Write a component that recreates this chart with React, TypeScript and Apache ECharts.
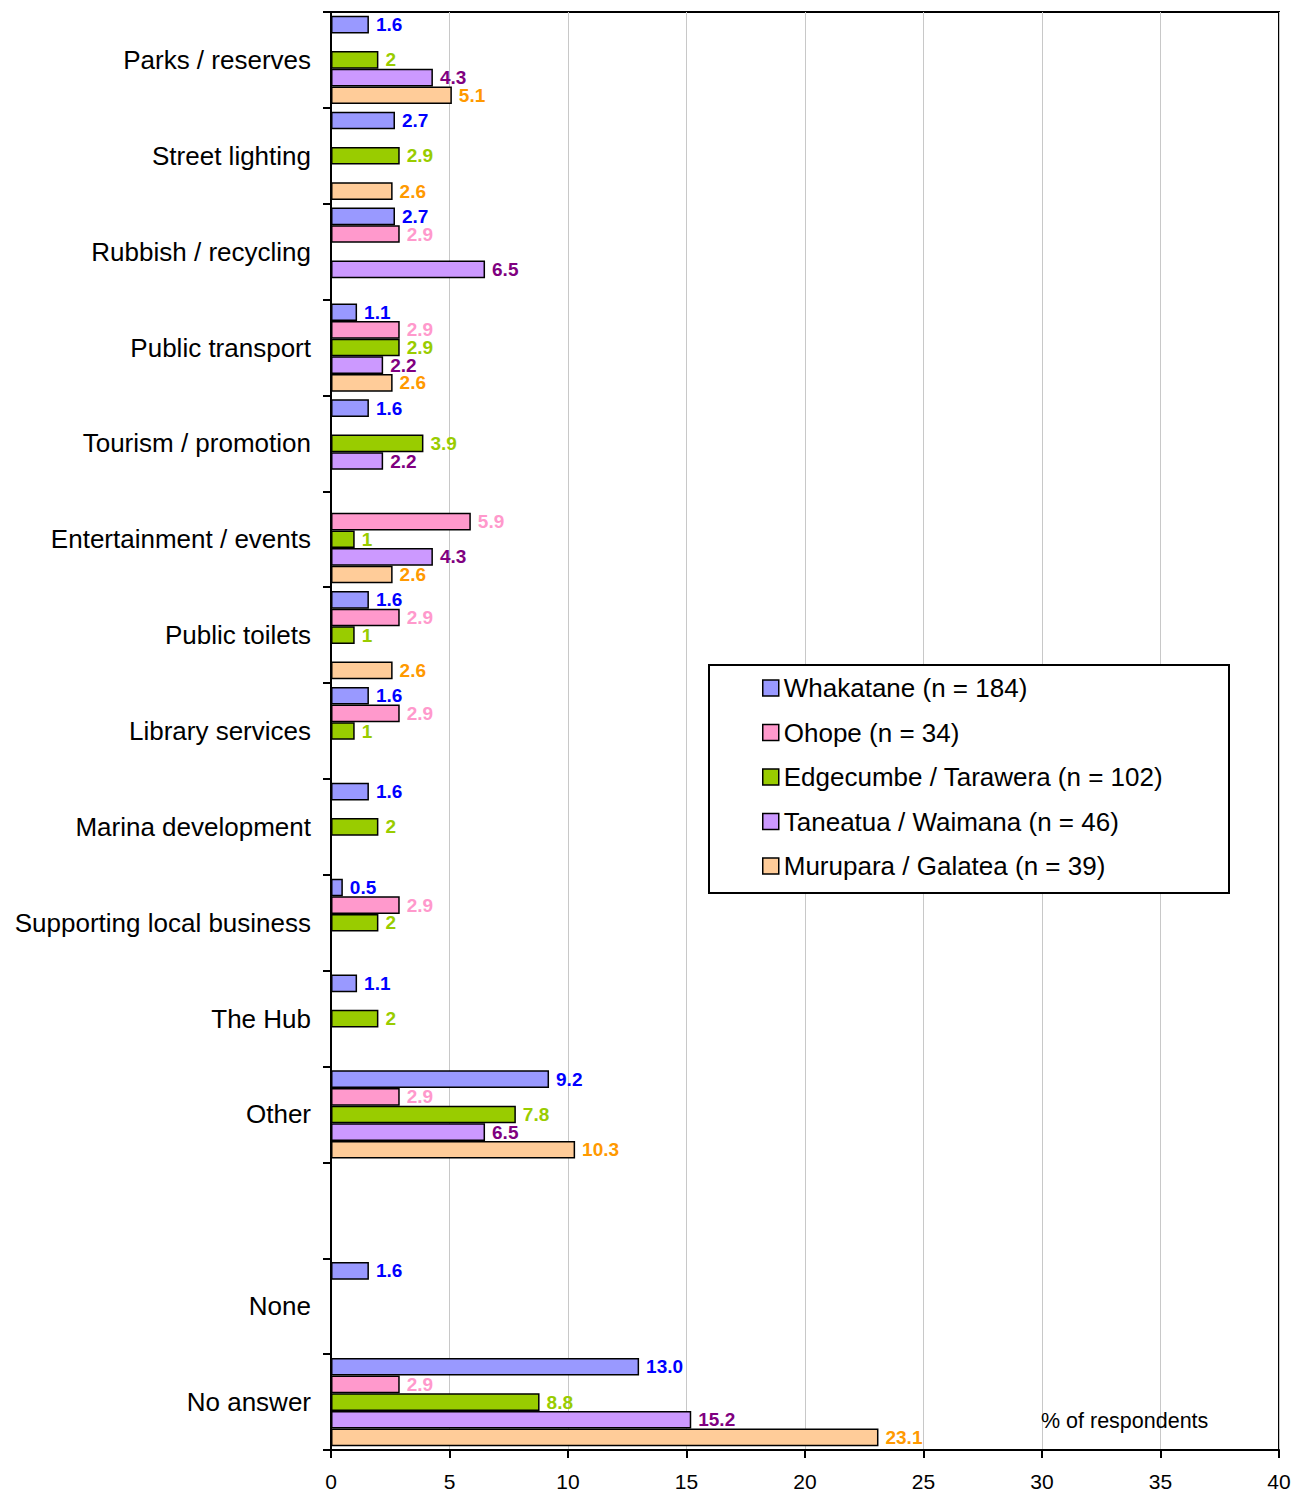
import React, { useEffect, useRef } from "react";
import * as echarts from "echarts";

const categories = [
  "Parks / reserves",
  "Street lighting",
  "Rubbish / recycling",
  "Public transport",
  "Tourism / promotion",
  "Entertainment / events",
  "Public toilets",
  "Library services",
  "Marina development",
  "Supporting local business",
  "The Hub",
  "Other",
  "",
  "None",
  "No answer",
];

const seriesNames = [
  "Whakatane (n = 184)",
  "Ohope (n = 34)",
  "Edgecumbe / Tarawera (n = 102)",
  "Taneatua / Waimana (n = 46)",
  "Murupara / Galatea (n = 39)",
];

const whakatane = [1.6, 2.7, 2.7, 1.1, 1.6, null, 1.6, 1.6, 1.6, 0.5, 1.1, 9.2, null, 1.6, 13.0];
const ohope = [null, null, 2.9, 2.9, null, 5.9, 2.9, 2.9, null, 2.9, null, 2.9, null, null, 2.9];
const edgecumbe = [2, 2.9, null, 2.9, 3.9, 1, 1, 1, 2, 2, 2, 7.8, null, null, 8.8];
const taneatua = [4.3, null, 6.5, 2.2, 2.2, 4.3, null, null, null, null, null, 6.5, null, null, 15.2];
const murupara = [5.1, 2.6, null, 2.6, null, 2.6, 2.6, null, null, null, null, 10.3, null, null, 23.1];

const xTicks = { min: 0, max: 40, interval: 5 };

const barColors = ["#9999FF", "#FF99CC", "#99CC00", "#CC99FF", "#FFCC99"];
const labelColors = ["#0000FF", "#FF99CC", "#99CC00", "#800080", "#FF9900"];

const FONT = 'Arial, "Liberation Sans", sans-serif';

export default function App() {
  const ref = useRef<HTMLDivElement>(null);

  useEffect(() => {
    document.body.style.margin = "0";
    if (!ref.current) return;
    const chart = echarts.init(ref.current, null, { renderer: "svg" });
    const allData = [whakatane, ohope, edgecumbe, taneatua, murupara];

    const series = allData.map((arr, i) => ({
      name: seriesNames[i],
      type: "bar",
      data: arr.map((v) => (v === null ? "-" : v)),
      barGap: "0%",
      barCategoryGap: "8%",
      itemStyle: { color: barColors[i], borderColor: "#000", borderWidth: 1.5 },
      label: {
        show: true,
        position: "right",
        distance: 7,
        color: labelColors[i],
        fontFamily: FONT,
        fontWeight: "bold",
        fontSize: 19,
        lineHeight: 17,
        formatter: (p: any) =>
          typeof p.value === "number" && p.value >= 10 && Number.isInteger(p.value)
            ? p.value.toFixed(1)
            : String(p.value),
      },
    }));

    chart.setOption({
      animation: false,
      backgroundColor: "#fff",
      textStyle: { fontFamily: FONT },
      grid: {
        left: 331,
        right: 25,
        top: 12,
        bottom: 40,
        show: true,
        borderColor: "#000",
        borderWidth: 2,
        containLabel: false,
      },
      xAxis: {
        type: "value",
        min: xTicks.min,
        max: xTicks.max,
        interval: xTicks.interval,
        axisLine: { show: true, lineStyle: { color: "#000", width: 2 } },
        axisTick: { show: true, length: 8, lineStyle: { color: "#000", width: 2 } },
        axisLabel: { color: "#000", fontSize: 21, margin: 21, fontFamily: FONT },
        splitLine: { show: true, lineStyle: { color: "#C8C8C8", width: 1 } },
      },
      yAxis: {
        type: "category",
        data: categories,
        inverse: true,
        axisLine: { show: true, lineStyle: { color: "#000", width: 2 } },
        axisTick: { show: true, length: 8, lineStyle: { color: "#000", width: 2 } },
        axisLabel: { color: "#000", fontSize: 26, margin: 20, fontFamily: FONT },
        splitLine: { show: false },
      },
      legend: {
        orient: "vertical",
        left: 762,
        top: 675,
        itemWidth: 16,
        itemHeight: 16,
        itemGap: 18.5,
        padding: 0,
        icon: "rect",
        z: 10,
        textStyle: { color: "#000", fontSize: 26, lineHeight: 26, fontFamily: FONT },
        itemStyle: { borderColor: "#000", borderWidth: 1.5 },
        data: seriesNames,
      },
      graphic: [
        {
          type: "rect",
          z: 3,
          shape: { x: 709, y: 665, width: 520, height: 228 },
          style: { fill: "#fff", stroke: "#000", lineWidth: 2 },
        },
        {
          type: "text",
          z: 3,
          x: 1041,
          y: 1410,
          style: { text: "% of respondents", fill: "#000", font: `21.5px ${FONT}` },
        },
      ],
      series,
    });

    return () => chart.dispose();
  }, []);

  return (
    <div
      ref={ref}
      style={{ width: 1304, height: 1492, position: "absolute", left: 0, top: 0 }}
    />
  );
}
